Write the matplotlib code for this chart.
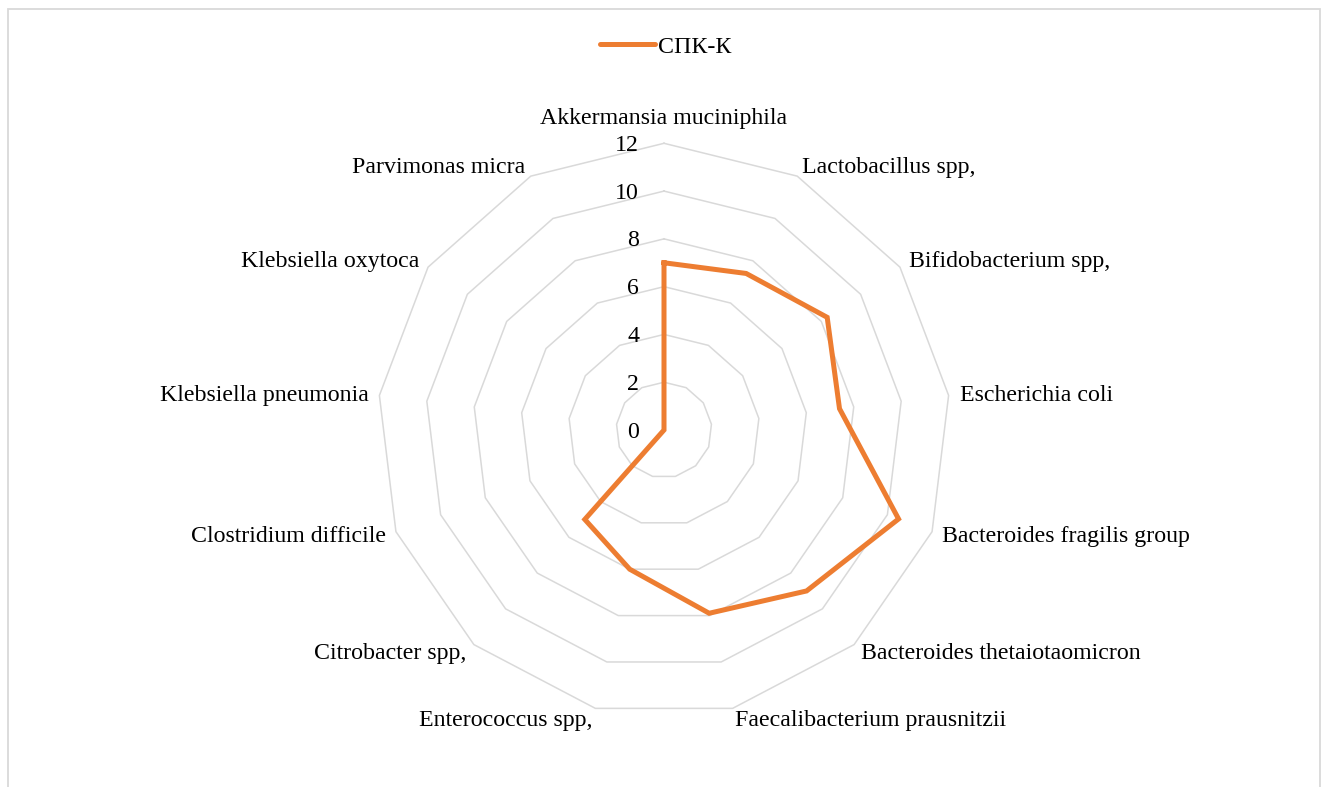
import numpy as np
import matplotlib
matplotlib.use("Agg")
import matplotlib.pyplot as plt
import matplotlib.transforms as mtransforms
from matplotlib.patches import Rectangle

categories = ["Akkermansia muciniphila", "Lactobacillus spp,", "Bifidobacterium spp,",
              "Escherichia coli", "Bacteroides fragilis group", "Bacteroides thetaiotaomicron",
              "Faecalibacterium prausnitzii", "Enterococcus spp,", "Citrobacter spp,",
              "Clostridium difficile", "Klebsiella pneumonia", "Klebsiella oxytoca",
              "Parvimonas micra"]
values = [7.0, 7.4, 8.3, 7.4, 10.5, 9.0, 7.9, 6.0, 5.0, 0, 0, 0, 0]
series_name = "СПК-К"
ring_levels = [0, 2, 4, 6, 8, 10, 12]
rmax = 12

plt.rcParams['font.family'] = ['Liberation Serif', 'DejaVu Serif']
FS = 17.2

W, H = 1328, 787
fig = plt.figure(figsize=(W / 100, H / 100), dpi=100)
fig.patch.set_facecolor('white')

cx, cy, R = 664, 430, 286.7
ax = fig.add_axes([(cx - R) / W, (H - cy - R) / H, 2 * R / W, 2 * R / H], projection='polar')
ax.set_theta_zero_location('N')
ax.set_theta_direction(-1)
ax.set_ylim(0, rmax)
ax.grid(False)
ax.set_xticks([])
ax.set_yticks([])
ax.spines['polar'].set_visible(False)
ax.patch.set_alpha(0)

n = len(categories)
angles = np.arange(n) * 2 * np.pi / n
closed = np.concatenate([angles, angles[:1]])

for r in ring_levels[1:]:
    ax.plot(closed, [r] * (n + 1), color='#d9d9d9', lw=1.1, zorder=1, clip_on=False)

vals = np.array(values + values[:1], dtype=float)
line, = ax.plot(closed, vals, color='#ed7d31', lw=3.6, zorder=3,
                solid_joinstyle='miter', label=series_name, clip_on=False)

# radial value labels
off = mtransforms.offset_copy(ax.transData, fig=fig, x=-25, y=-2, units='dots')
for r in ring_levels:
    ax.text(0, r, str(r), transform=off, ha='right', va='center', fontsize=FS, color='#000000')

# category labels
for a, lab in zip(angles, categories):
    s, c = np.sin(a), np.cos(a)
    if abs(s) < 1e-6:
        tr = mtransforms.offset_copy(ax.transData, fig=fig, x=0, y=25, units='dots')
        ha = 'center'
    else:
        d = 11
        tr = mtransforms.offset_copy(ax.transData, fig=fig, x=d * s, y=d * c - 1, units='dots')
        ha = 'left' if s > 0 else 'right'
    ax.text(a, rmax, lab, transform=tr, ha=ha, va='center', fontsize=FS, color='#000000')

leg = fig.legend(handles=[line], loc='center', bbox_to_anchor=(666 / W, 1 - 47 / H),
                 frameon=False, fontsize=FS, handlelength=2.3, handletextpad=0.12)
for h in leg.get_lines():
    h.set_solid_capstyle('round')

fig.add_artist(Rectangle((7.5 / W, -0.02), (1320 - 7.5) / W, (H - 9) / H + 0.02,
                         transform=fig.transFigure, fill=False, edgecolor='#d9d9d9', lw=1.3))

fig.savefig('out.png', dpi=100, facecolor='white')
